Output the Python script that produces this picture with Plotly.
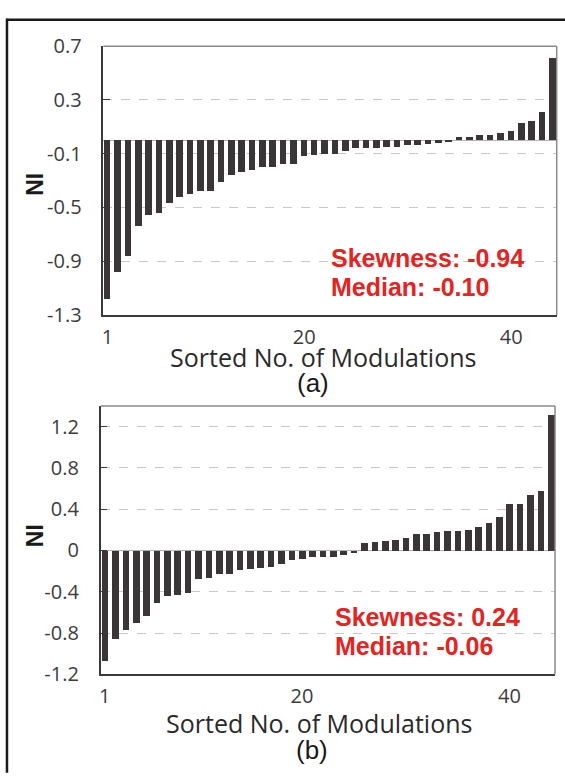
import plotly.graph_objects as go

# ---------------- data ----------------
rank = list(range(1, 45))
ni_a = [-1.18, -0.98, -0.86, -0.64, -0.56, -0.54, -0.47, -0.42, -0.40, -0.38,
        -0.38, -0.31, -0.26, -0.24, -0.22, -0.20, -0.20, -0.18, -0.18, -0.12,
        -0.11, -0.10, -0.10, -0.08, -0.06, -0.06, -0.06, -0.05, -0.05, -0.04,
        -0.04, -0.03, -0.02, -0.01, 0.02, 0.02, 0.04, 0.04, 0.05, 0.07,
        0.13, 0.14, 0.21, 0.61]
ni_b = [-1.07, -0.86, -0.77, -0.70, -0.63, -0.51, -0.44, -0.43, -0.41, -0.28,
        -0.27, -0.23, -0.23, -0.19, -0.18, -0.17, -0.16, -0.13, -0.09, -0.08,
        -0.06, -0.06, -0.06, -0.04, -0.02, 0.07, 0.08, 0.09, 0.10, 0.12,
        0.16, 0.16, 0.18, 0.19, 0.19, 0.20, 0.23, 0.27, 0.32, 0.45,
        0.45, 0.54, 0.58, 1.31]
yticks_a = [-1.3, -0.9, -0.5, -0.1, 0.3, 0.7]
yticks_b = [-1.2, -0.8, -0.4, 0, 0.4, 0.8, 1.2]
ytext_b = ["-1.2", "-0.8", "-0.4", "0", "0.4", "0.8", "1.2"]
xticks = [1, 20, 40]
stats_a = ["Skewness: -0.94", "Median: -0.10"]
stats_b = ["Skewness: 0.24", "Median: -0.06"]
panel_labels = ["(a)", "(b)"]
x_title = "Sorted No. of Modulations"
y_title = "NI"

W, H = 565, 781
def px(x): return x / W
def py(y): return 1 - y / H

BAR = "#3a3536"
GRID = "#c8c8c8"
AXC = "#3a3a3a"
TICKF = dict(family="Open Sans", size=20, color="#3c3c3c")
RED = "#e5231f"

fig = go.Figure()
fig.add_trace(go.Bar(x=rank, y=ni_a, marker=dict(color=BAR, line=dict(width=0)),
                     width=0.64, xaxis="x", yaxis="y", showlegend=False))
fig.add_trace(go.Bar(x=rank, y=ni_b, marker=dict(color=BAR, line=dict(width=0)),
                     width=0.64, xaxis="x2", yaxis="y2", showlegend=False))

A = dict(l=101.7, r=556.7, t=33.3, b=311.7)
B = dict(l=99, r=555, t=406, b=684)

def xax(box, anchor):
    return dict(domain=[px(box["l"]), px(box["r"])], range=[0.6, 44.4], anchor=anchor,
                tickmode="array", tickvals=xticks, ticks="", showgrid=False,
                zeroline=False, showline=True, linecolor=AXC, linewidth=1.5,
                tickfont=TICKF, ticklabelstandoff=3)

def yax(box, anchor, rng, tv, tt):
    return dict(domain=[py(box["b"]), py(box["t"])], range=rng, anchor=anchor,
                tickmode="array", tickvals=tv, ticktext=tt, ticks="inside",
                ticklen=7, tickcolor=AXC, tickwidth=1,
                showgrid=True, gridcolor=GRID, griddash="dash", gridwidth=1,
                zeroline=True, zerolinecolor="#b4b4b4", zerolinewidth=1,
                showline=True, linecolor=AXC, linewidth=1.5,
                tickfont=TICKF, ticklabelstandoff=16)

shapes = []
for box in (A, B):
    shapes.append(dict(type="line", xref="paper", yref="paper",
                       x0=px(box["l"]), x1=px(box["r"]), y0=py(box["t"]), y1=py(box["t"]),
                       line=dict(color="#8a8a8a", width=1.5)))
    shapes.append(dict(type="line", xref="paper", yref="paper",
                       x0=px(box["r"]), x1=px(box["r"]), y0=py(box["t"]), y1=py(box["b"]),
                       line=dict(color="#8a8a8a", width=1.5)))
# outer frame (top and left edges)
shapes.append(dict(type="line", xref="paper", yref="paper", x0=px(4), x1=px(W + 5),
                   y0=py(6), y1=py(6), line=dict(color="#1a1a1a", width=2.5)))
shapes.append(dict(type="line", xref="paper", yref="paper", x0=px(5), x1=px(5),
                   y0=py(5), y1=py(H + 5), line=dict(color="#1a1a1a", width=2.5)))

ann = []
def txt(x, y, s, font, **kw):
    d = dict(xref="paper", yref="paper", x=px(x), y=py(y), text=s, showarrow=False,
             font=font, xanchor=kw.pop("xanchor", "center"), yanchor="middle")
    d.update(kw)
    ann.append(d)

TITLEF = dict(family="Open Sans", size=25, color="#2a2a2a")
NIF = dict(family="Liberation Sans", size=23, color="#1a1a1a", weight="bold")
PANF = dict(family="Liberation Sans", size=26, color="#1a1a1a")
STATF = dict(family="Liberation Sans", size=25, color=RED, weight="bold")

txt(322, 355, x_title, TITLEF)
txt(318, 734, x_title, TITLEF)
txt(33, 176, y_title, NIF, textangle=-90)
txt(33, 540, y_title, NIF, textangle=-90)
txt(312, 382, panel_labels[0], PANF)
txt(311, 762, panel_labels[1], PANF)
txt(328, 253, stats_a[0], STATF, xanchor="left")
txt(328, 283, stats_a[1], STATF, xanchor="left")
txt(332, 625, stats_b[0], STATF, xanchor="left")
txt(332, 655, stats_b[1], STATF, xanchor="left")

fig.update_layout(
    width=W, height=H, margin=dict(l=0, r=0, t=0, b=0),
    paper_bgcolor="white", plot_bgcolor="white", bargap=0,
    xaxis=xax(A, "y"),
    yaxis=yax(A, "x", [-1.3, 0.7], yticks_a, [f"{v:.1f}" for v in yticks_a]),
    xaxis2=xax(B, "y2"),
    yaxis2=yax(B, "x2", [-1.2, 1.4], yticks_b, ytext_b),
    shapes=shapes, annotations=ann,
)

fig.write_html("out.html", config={"displayModeBar": False},
               post_script="document.body.style.margin='0';")
